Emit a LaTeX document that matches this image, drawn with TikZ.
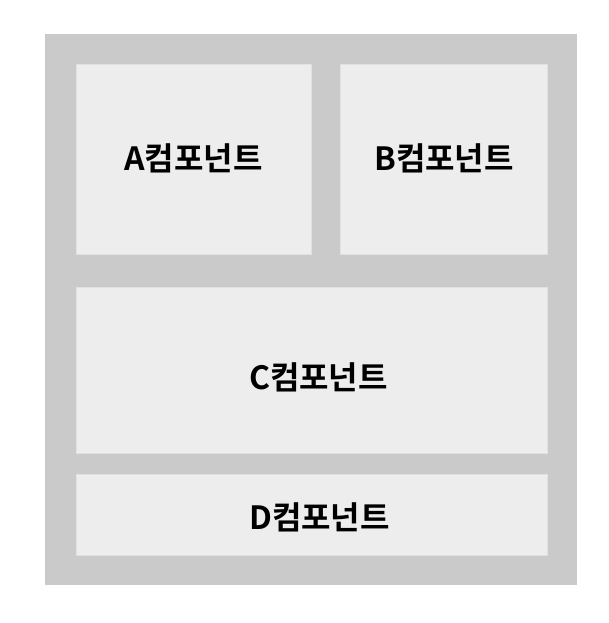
\documentclass[tikz,border=0pt]{standalone}
\usepackage{fontspec}
\newfontfamily\krfont{Noto Sans CJK KR}[BoldFont={* Bold}]
\usetikzlibrary{positioning}
\definecolor{framegray}{HTML}{CACACA}
\definecolor{boxgray}{HTML}{EDEDED}
\tikzset{
	part/.style = {fill=boxgray, draw=boxgray!95!black, line width=0.6pt},
	partlabel/.style = {inner sep=0pt, font=\krfont\bfseries\fontsize{32}{38}\selectfont},
}

\begin{document}
\begin{tikzpicture}[x=1pt, y=-1pt]
	\useasboundingbox (0,0) rectangle (608,623);
	% ====== Frame ========
	\fill[framegray] (45,34) rectangle (577,585);
	% ====== Components ========
	\filldraw[part] (76,64) rectangle (311,254);
	\filldraw[part] (340,64) rectangle (547,254);
	\filldraw[part] (76,287) rectangle (547,453);
	\filldraw[part] (76,474) rectangle (547,555);
	% ====== Labels ========
	\node[partlabel] (A) at (193.5,158.5) {A컴포넌트};
	\node[partlabel] (B) at (444,158.5) {B컴포넌트};
	\node[partlabel] (C) at (318.5,377) {C컴포넌트};
	\node[partlabel] (D) at (319.5,517) {D컴포넌트};
\end{tikzpicture}
\end{document}
